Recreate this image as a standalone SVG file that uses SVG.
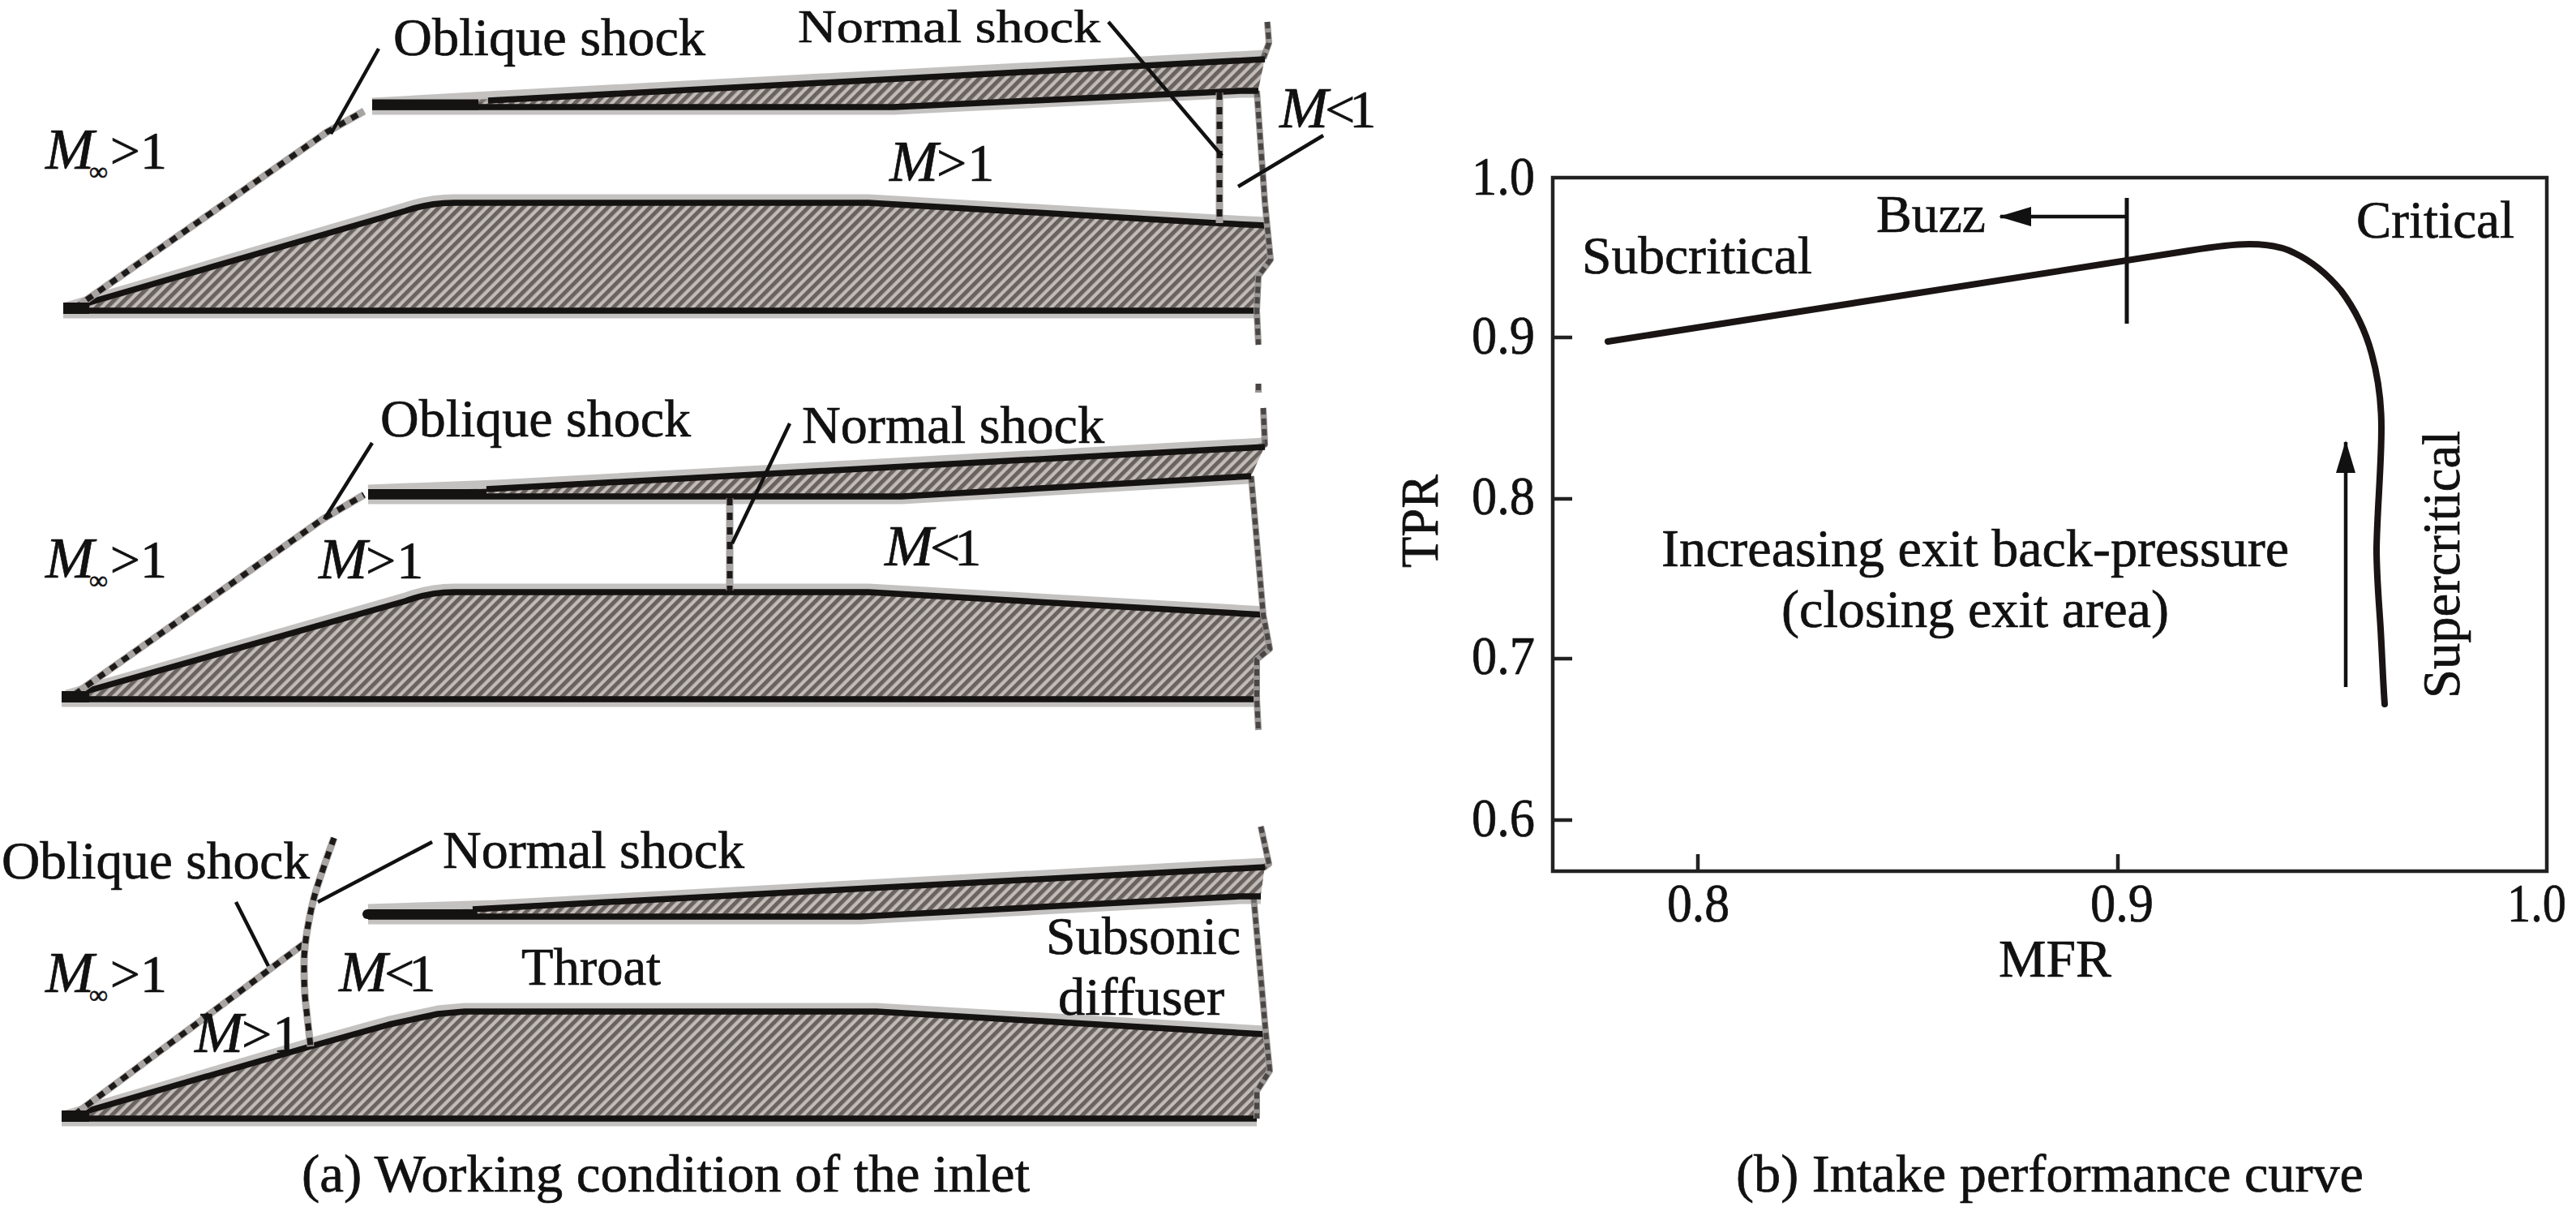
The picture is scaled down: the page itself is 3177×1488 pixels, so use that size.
<svg xmlns="http://www.w3.org/2000/svg" width="3177" height="1488" viewBox="0 0 3177 1488">
<style>
text{font-family:"Liberation Serif","Times New Roman",serif;font-size:66px;fill:#111;stroke:#111;stroke-width:.7}
.i{font-style:italic;font-size:72px}
.a{letter-spacing:-6px}
.b{letter-spacing:-4px}
.c{letter-spacing:-7px}
.d{letter-spacing:-2px}
.e{letter-spacing:1px}
.inf{font-size:32px;font-style:normal}
.num{font-size:68px}
.hatch{fill:url(#h);stroke:none}
.halo{fill:none;stroke:#8a8583;stroke-opacity:.5;stroke-width:13;stroke-linejoin:round}
.edge{fill:none;stroke:#151212;stroke-width:7.5;stroke-linejoin:round}
.thinbg{fill:none;stroke:#9a9694;stroke-width:8;stroke-linejoin:round}
.thin{fill:none;stroke:#4a4646;stroke-width:6;stroke-dasharray:8 5;stroke-linejoin:round}
.shockbg{fill:none;stroke:#a8a4a2;stroke-width:9}
.shock{fill:none;stroke:#1d1a1a;stroke-width:7;stroke-dasharray:9 9}
.lead{fill:none;stroke:#111;stroke-width:4.5}
.axis{fill:none;stroke:#222;stroke-width:4.5}
.curve{fill:none;stroke:#1a1414;stroke-width:8;stroke-linecap:round;stroke-linejoin:round}
</style>
<defs>
<pattern id="h" width="9.2" height="12" patternUnits="userSpaceOnUse" patternTransform="rotate(45)">
<rect width="9.2" height="12" fill="#c2bcb8"/>
<rect width="5" height="12" fill="#69625f"/>
</pattern>
<marker id="ah" viewBox="0 0 40 24" refX="38" refY="12" markerUnits="userSpaceOnUse" markerWidth="40" markerHeight="24" orient="auto"><path d="M0 0L40 12L0 24Z" fill="#111"/></marker>
<path id="s1" d="M92 380L403 163L449 137"/>
<path id="s2" d="M1504 114V275"/>
<path id="t1" d="M1563 27L1565 53L1558 72M1550 112L1560 250L1567 320L1552 340L1550 383L1552 425M1552 473V484"/>
<path id="s3" d="M92 856L398 640L449 610"/>
<path id="s4" d="M900 614V728"/>
<path id="t2" d="M1558 503L1560 548L1552 552M1543 587L1558 758L1566 800L1550 813L1550 862L1552 900"/>
<path id="s5" d="M92 1374L377 1162"/>
<path id="s6" d="M412 1033C405 1052 396 1078 390 1097C386 1110 384 1120 382 1130C378 1150 375 1170 375 1187C375 1205 375 1220 377 1237C379 1255 381 1272 383 1290"/>
<path id="t3" d="M1555 1019L1565 1065L1558 1070M1546 1105L1561 1272L1566 1320L1550 1345L1550 1379"/>
</defs>
<rect width="3177" height="1488" fill="#fff"/>

<g id="inlet-supersonic-exit">
<path class="hatch" d="M82 383L500 260Q530 250 560 250L1071 250L1500 275L1562 278L1568 320L1552 340L1550 383Z"/>
<path class="halo" d="M82 379L500 256Q530 246 560 246L1071 246L1500 271L1562 274"/>
<path class="edge" d="M82 381L500 260Q530 250 560 250L1071 250L1500 275L1562 278"/>
<path class="halo" d="M78 386H1550"/><path class="edge" d="M78 383H1550"/>
<use href="#t1" class="thinbg"/><use href="#t1" class="thin"/>
<path class="hatch" d="M459 128L602 122L1560 72L1552 110L1530 110L1102 132L459 133Z"/>
<path class="halo" d="M459 127L602 119L1560 68"/>
<path class="halo" d="M459 135H1102L1530 114H1552"/>
<path class="edge" d="M459 132H1102L1530 112H1552M602 124L1560 73"/>
<path class="edge" d="M459 129H590" style="stroke-width:13"/>
<use href="#s1" class="shockbg"/><use href="#s1" class="shock"/>
<use href="#s2" class="shockbg"/><use href="#s2" class="shock"/>
<path class="edge" d="M78 380H110" style="stroke-width:14"/>
</g>

<g id="inlet-critical">
<path class="hatch" d="M82 861L500 741Q530 730 560 730L1071 730L1560 758L1566 800L1550 813L1550 862Z"/>
<path class="halo" d="M82 857L500 737Q530 726 560 726L1071 726L1560 754"/>
<path class="edge" d="M82 859L500 741Q530 730 560 730L1071 730L1560 758"/>
<path class="halo" d="M76 865H1550"/><path class="edge" d="M76 862H1550"/>
<use href="#t2" class="thinbg"/><use href="#t2" class="thin"/>
<path class="hatch" d="M454 606L612 602L1560 550L1543 587L1112 612L454 612Z"/>
<path class="halo" d="M454 604L612 598L1560 546"/>
<path class="halo" d="M454 615H1112L1540 590"/>
<path class="edge" d="M454 612H1112L1543 587M600 603L1560 551"/>
<path class="edge" d="M454 609H600" style="stroke-width:12"/>
<use href="#s3" class="shockbg"/><use href="#s3" class="shock"/>
<use href="#s4" class="shockbg"/><use href="#s4" class="shock"/>
<path class="edge" d="M76 859H110" style="stroke-width:14"/>
</g>

<g id="inlet-subcritical">
<path class="hatch" d="M82 1379L383 1290L480 1263L540 1250L573 1247L1081 1247L1560 1275L1566 1320L1550 1345L1550 1379Z"/>
<path class="halo" d="M82 1375L383 1286L480 1259L540 1246L573 1243L1081 1243L1560 1271"/>
<path class="edge" d="M82 1377L383 1290L480 1263L540 1250L573 1247L1081 1247L1560 1275"/>
<path class="halo" d="M76 1382H1550"/><path class="edge" d="M76 1379H1550"/>
<use href="#t3" class="thinbg"/><use href="#t3" class="thin"/>
<path class="hatch" d="M454 1123L612 1120L1560 1068L1555 1103L1530 1105L1061 1130L454 1130Z"/>
<path class="halo" d="M454 1121L612 1116L1560 1064"/>
<path class="halo" d="M454 1133H1061L1530 1108H1555"/>
<path class="edge" d="M454 1130H1061L1530 1105H1555M583 1121L1560 1069"/>
<path class="edge" d="M453 1127H583" style="stroke-width:12;stroke-linecap:round"/>
<use href="#s5" class="shockbg"/><use href="#s5" class="shock"/>
<use href="#s6" class="shockbg"/><use href="#s6" class="shock"/>
<path class="edge" d="M76 1376H110" style="stroke-width:14"/>
</g>

<g id="connectors">
<path class="lead" d="M467 60L408 165"/>
<path class="lead" d="M1367 27L1507 192"/>
<path class="lead" d="M1527 230L1632 167"/>
<path class="lead" d="M459 546L400 640"/>
<path class="lead" d="M974 522L903 670"/>
<path class="lead" d="M291 1112L331 1191"/>
<path class="lead" d="M533 1038L392 1112"/>
<path class="lead" d="M2623 267H2467" marker-end="url(#ah)"/>
<path class="lead" d="M2893 847V545" marker-end="url(#ah)"/>
</g>

<g id="labels-a">
<text x="485" y="68" textLength="385" lengthAdjust="spacingAndGlyphs">Oblique shock</text>
<text x="984" y="52" textLength="373" lengthAdjust="spacingAndGlyphs" style="font-size:58px">Normal shock</text>
<text x="56" y="208"><tspan class="i a">M</tspan><tspan class="inf" dy="14">∞</tspan><tspan dy="-14" dx="3">&gt;1</tspan></text>
<text x="1097" y="223"><tspan class="i d">M</tspan><tspan class="e">&gt;</tspan>1</text>
<text x="1578" y="157"><tspan class="i b">M</tspan><tspan class="c">&lt;</tspan>1</text>
<text x="469" y="538" textLength="383" lengthAdjust="spacingAndGlyphs">Oblique shock</text>
<text x="989" y="546" textLength="373" lengthAdjust="spacingAndGlyphs">Normal shock</text>
<text x="56" y="712"><tspan class="i a">M</tspan><tspan class="inf" dy="14">∞</tspan><tspan dy="-14" dx="3">&gt;1</tspan></text>
<text x="393" y="713"><tspan class="i d">M</tspan><tspan class="e">&gt;</tspan>1</text>
<text x="1091" y="697"><tspan class="i b">M</tspan><tspan class="c">&lt;</tspan>1</text>
<text x="2" y="1083" textLength="380" lengthAdjust="spacingAndGlyphs">Oblique shock</text>
<text x="546" y="1070" textLength="372" lengthAdjust="spacingAndGlyphs">Normal shock</text>
<text x="56" y="1223"><tspan class="i a">M</tspan><tspan class="inf" dy="14">∞</tspan><tspan dy="-14" dx="3">&gt;1</tspan></text>
<text x="418" y="1222"><tspan class="i b">M</tspan><tspan class="c">&lt;</tspan>1</text>
<text x="240" y="1297"><tspan class="i d">M</tspan><tspan class="e">&gt;</tspan>1</text>
<text x="643" y="1214" textLength="172" lengthAdjust="spacingAndGlyphs">Throat</text>
<text x="1290" y="1176" textLength="240" lengthAdjust="spacingAndGlyphs">Subsonic</text>
<text x="1305" y="1251" textLength="205" lengthAdjust="spacingAndGlyphs">diffuser</text>
<text x="372" y="1469" textLength="898" lengthAdjust="spacingAndGlyphs">(a) Working condition of the inlet</text>
</g>

<g id="chart">
<path class="axis" d="M1915 219H3141V1074H1915Z"/>
<path class="axis" d="M1915 416H1939M1915 615H1939M1915 812H1939M1915 1011H1939M2094 1074V1053M2612 1074V1053"/>
<path class="lead" d="M2623 244V399" style="stroke-width:5"/>
<path class="curve" d="M1983 421L2700 309C2725 305 2750 301 2774 301C2795 301 2815 304 2830 312C2855 324 2872 340 2887 358C2905 382 2918 410 2925 436C2933 465 2937 495 2937 527C2937 575 2932 625 2931 676C2931 710 2934 742 2936 775C2938 810 2939 840 2941 868"/>
<text class="num" x="1815" y="240" textLength="78" lengthAdjust="spacingAndGlyphs">1.0</text>
<text class="num" x="1815" y="436" textLength="78" lengthAdjust="spacingAndGlyphs">0.9</text>
<text class="num" x="1815" y="634" textLength="78" lengthAdjust="spacingAndGlyphs">0.8</text>
<text class="num" x="1815" y="831" textLength="78" lengthAdjust="spacingAndGlyphs">0.7</text>
<text class="num" x="1815" y="1031" textLength="78" lengthAdjust="spacingAndGlyphs">0.6</text>
<text class="num" x="2056" y="1136" textLength="77" lengthAdjust="spacingAndGlyphs">0.8</text>
<text class="num" x="2578" y="1136" textLength="78" lengthAdjust="spacingAndGlyphs">0.9</text>
<text class="num" x="3092" y="1136" textLength="73" lengthAdjust="spacingAndGlyphs">1.0</text>
<text x="2465" y="1204" textLength="139" lengthAdjust="spacingAndGlyphs">MFR</text>
<text transform="translate(1773 700) rotate(-90)" textLength="115" lengthAdjust="spacingAndGlyphs">TPR</text>
<text x="1951" y="337" textLength="284" lengthAdjust="spacingAndGlyphs">Subcritical</text>
<text x="2314" y="286" textLength="135" lengthAdjust="spacingAndGlyphs">Buzz</text>
<text x="2906" y="293" textLength="195" lengthAdjust="spacingAndGlyphs">Critical</text>
<text x="2049" y="698" textLength="774" lengthAdjust="spacingAndGlyphs">Increasing exit back-pressure</text>
<text x="2197" y="773" textLength="478" lengthAdjust="spacingAndGlyphs">(closing exit area)</text>
<text transform="translate(3033 861) rotate(-90)" textLength="330" lengthAdjust="spacingAndGlyphs">Supercritical</text>
<text x="2141" y="1469" textLength="774" lengthAdjust="spacingAndGlyphs">(b) Intake performance curve</text>
</g>
</svg>
